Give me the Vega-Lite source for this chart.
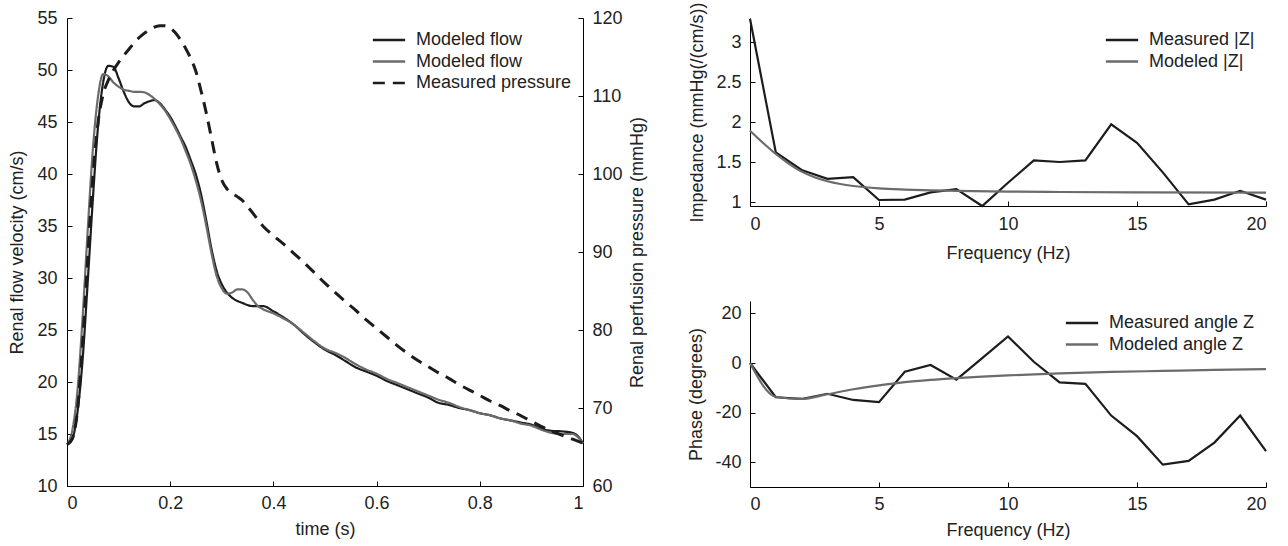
{
  "$schema": "https://vega.github.io/schema/vega-lite/v6.json",
  "padding": {"left": 8, "top": 1, "right": 5, "bottom": 5},
  "background": "white",
  "config": {
    "font": "Liberation Sans",
    "view": {"stroke": null},
    "axis": {
      "grid": false,
      "domainColor": "#000000",
      "domainWidth": 1,
      "tickColor": "#000000",
      "tickSize": -5,
      "labelFontSize": 18,
      "titleFontSize": 18,
      "titleFontWeight": "normal",
      "labelColor": "#222222",
      "titleColor": "#222222",
      "labelFont": "Liberation Sans",
      "titleFont": "Liberation Sans",
      "format": "~r"
    },
    "legend": {
      "title": null,
      "orient": "top-right",
      "offset": 11,
      "padding": 0,
      "labelFontSize": 18,
      "labelFont": "Liberation Sans",
      "labelColor": "#222222",
      "labelLimit": 300,
      "symbolType": "M-1.7,0H1.7",
      "symbolSize": 361,
      "symbolStrokeWidth": 2.5,
      "labelOffset": 16,
      "rowPadding": 1.5
    }
  },
  "datasets": {
    "flow": [
      {"series": "A", "t": 0, "value": 14.0},
      {"series": "A", "t": 0.01, "value": 14.5},
      {"series": "A", "t": 0.02, "value": 17.0},
      {"series": "A", "t": 0.03, "value": 22.0},
      {"series": "A", "t": 0.04, "value": 29.5},
      {"series": "A", "t": 0.05, "value": 37.5},
      {"series": "A", "t": 0.06, "value": 44.5},
      {"series": "A", "t": 0.07, "value": 48.8},
      {"series": "A", "t": 0.08, "value": 50.4},
      {"series": "A", "t": 0.09, "value": 50.3},
      {"series": "A", "t": 0.10, "value": 49.2},
      {"series": "A", "t": 0.11, "value": 47.9},
      {"series": "A", "t": 0.12, "value": 46.9},
      {"series": "A", "t": 0.13, "value": 46.5},
      {"series": "A", "t": 0.14, "value": 46.5},
      {"series": "A", "t": 0.15, "value": 46.8},
      {"series": "A", "t": 0.16, "value": 47.0},
      {"series": "A", "t": 0.17, "value": 47.1},
      {"series": "A", "t": 0.18, "value": 46.8},
      {"series": "A", "t": 0.19, "value": 46.2},
      {"series": "A", "t": 0.20, "value": 45.5},
      {"series": "A", "t": 0.21, "value": 44.6},
      {"series": "A", "t": 0.22, "value": 43.6},
      {"series": "A", "t": 0.23, "value": 42.6},
      {"series": "A", "t": 0.24, "value": 41.3},
      {"series": "A", "t": 0.25, "value": 39.9},
      {"series": "A", "t": 0.26, "value": 38.0},
      {"series": "A", "t": 0.27, "value": 35.5},
      {"series": "A", "t": 0.28, "value": 32.8},
      {"series": "A", "t": 0.29, "value": 30.7},
      {"series": "A", "t": 0.30, "value": 29.4},
      {"series": "A", "t": 0.31, "value": 28.6},
      {"series": "A", "t": 0.32, "value": 28.1},
      {"series": "A", "t": 0.34, "value": 27.6},
      {"series": "A", "t": 0.36, "value": 27.3},
      {"series": "A", "t": 0.38, "value": 27.3},
      {"series": "A", "t": 0.40, "value": 26.8},
      {"series": "A", "t": 0.42, "value": 26.2},
      {"series": "A", "t": 0.44, "value": 25.5},
      {"series": "A", "t": 0.46, "value": 24.6},
      {"series": "A", "t": 0.48, "value": 23.8},
      {"series": "A", "t": 0.50, "value": 23.1},
      {"series": "A", "t": 0.52, "value": 22.6},
      {"series": "A", "t": 0.54, "value": 22.0},
      {"series": "A", "t": 0.56, "value": 21.4},
      {"series": "A", "t": 0.58, "value": 21.0},
      {"series": "A", "t": 0.60, "value": 20.6},
      {"series": "A", "t": 0.62, "value": 20.1},
      {"series": "A", "t": 0.64, "value": 19.7},
      {"series": "A", "t": 0.66, "value": 19.3},
      {"series": "A", "t": 0.68, "value": 18.9},
      {"series": "A", "t": 0.70, "value": 18.5},
      {"series": "A", "t": 0.72, "value": 18.0},
      {"series": "A", "t": 0.74, "value": 17.8},
      {"series": "A", "t": 0.76, "value": 17.5},
      {"series": "A", "t": 0.78, "value": 17.3},
      {"series": "A", "t": 0.80, "value": 17.0},
      {"series": "A", "t": 0.82, "value": 16.8},
      {"series": "A", "t": 0.84, "value": 16.5},
      {"series": "A", "t": 0.86, "value": 16.3},
      {"series": "A", "t": 0.88, "value": 16.1},
      {"series": "A", "t": 0.90, "value": 15.9},
      {"series": "A", "t": 0.92, "value": 15.5},
      {"series": "A", "t": 0.94, "value": 15.3},
      {"series": "A", "t": 0.96, "value": 15.25},
      {"series": "A", "t": 0.98, "value": 15.1},
      {"series": "A", "t": 0.99, "value": 14.8},
      {"series": "A", "t": 1.00, "value": 14.1},
      {"series": "B", "t": 0, "value": 14.0},
      {"series": "B", "t": 0.01, "value": 15.3},
      {"series": "B", "t": 0.02, "value": 19.0},
      {"series": "B", "t": 0.03, "value": 26.0},
      {"series": "B", "t": 0.04, "value": 34.5},
      {"series": "B", "t": 0.05, "value": 42.3},
      {"series": "B", "t": 0.06, "value": 47.4},
      {"series": "B", "t": 0.07, "value": 49.6},
      {"series": "B", "t": 0.08, "value": 49.4},
      {"series": "B", "t": 0.09, "value": 48.8},
      {"series": "B", "t": 0.10, "value": 48.4},
      {"series": "B", "t": 0.11, "value": 48.1},
      {"series": "B", "t": 0.12, "value": 48.0},
      {"series": "B", "t": 0.13, "value": 47.9},
      {"series": "B", "t": 0.14, "value": 47.9},
      {"series": "B", "t": 0.15, "value": 47.85},
      {"series": "B", "t": 0.16, "value": 47.6},
      {"series": "B", "t": 0.17, "value": 47.2},
      {"series": "B", "t": 0.18, "value": 46.7},
      {"series": "B", "t": 0.19, "value": 46.1},
      {"series": "B", "t": 0.20, "value": 45.3},
      {"series": "B", "t": 0.21, "value": 44.4},
      {"series": "B", "t": 0.22, "value": 43.4},
      {"series": "B", "t": 0.23, "value": 42.2},
      {"series": "B", "t": 0.24, "value": 40.9},
      {"series": "B", "t": 0.25, "value": 39.3},
      {"series": "B", "t": 0.26, "value": 37.4},
      {"series": "B", "t": 0.27, "value": 35.0},
      {"series": "B", "t": 0.28, "value": 32.4},
      {"series": "B", "t": 0.29, "value": 30.2},
      {"series": "B", "t": 0.30, "value": 29.0},
      {"series": "B", "t": 0.31, "value": 28.5},
      {"series": "B", "t": 0.32, "value": 28.6},
      {"series": "B", "t": 0.33, "value": 28.9},
      {"series": "B", "t": 0.34, "value": 28.9},
      {"series": "B", "t": 0.35, "value": 28.6},
      {"series": "B", "t": 0.36, "value": 27.9},
      {"series": "B", "t": 0.37, "value": 27.3},
      {"series": "B", "t": 0.38, "value": 27.0},
      {"series": "B", "t": 0.40, "value": 26.6},
      {"series": "B", "t": 0.42, "value": 26.1},
      {"series": "B", "t": 0.44, "value": 25.5},
      {"series": "B", "t": 0.46, "value": 24.7},
      {"series": "B", "t": 0.48, "value": 23.9},
      {"series": "B", "t": 0.50, "value": 23.2},
      {"series": "B", "t": 0.52, "value": 22.8},
      {"series": "B", "t": 0.54, "value": 22.3},
      {"series": "B", "t": 0.56, "value": 21.7},
      {"series": "B", "t": 0.58, "value": 21.2},
      {"series": "B", "t": 0.60, "value": 20.8},
      {"series": "B", "t": 0.62, "value": 20.3},
      {"series": "B", "t": 0.64, "value": 19.9},
      {"series": "B", "t": 0.66, "value": 19.5},
      {"series": "B", "t": 0.68, "value": 19.1},
      {"series": "B", "t": 0.70, "value": 18.7},
      {"series": "B", "t": 0.72, "value": 18.3},
      {"series": "B", "t": 0.74, "value": 18.0},
      {"series": "B", "t": 0.76, "value": 17.6},
      {"series": "B", "t": 0.78, "value": 17.3},
      {"series": "B", "t": 0.80, "value": 17.0},
      {"series": "B", "t": 0.82, "value": 16.8},
      {"series": "B", "t": 0.84, "value": 16.5},
      {"series": "B", "t": 0.86, "value": 16.3},
      {"series": "B", "t": 0.88, "value": 16.0},
      {"series": "B", "t": 0.90, "value": 15.8},
      {"series": "B", "t": 0.92, "value": 15.4},
      {"series": "B", "t": 0.94, "value": 15.1},
      {"series": "B", "t": 0.96, "value": 15.0},
      {"series": "B", "t": 0.98, "value": 15.0},
      {"series": "B", "t": 0.99, "value": 14.7},
      {"series": "B", "t": 1.00, "value": 14.1}
    ],
    "pressure": [
      {"series": "C", "t": 0, "value": 65.3},
      {"series": "C", "t": 0.01, "value": 66.0},
      {"series": "C", "t": 0.02, "value": 69.5},
      {"series": "C", "t": 0.03, "value": 78.0},
      {"series": "C", "t": 0.04, "value": 89.0},
      {"series": "C", "t": 0.05, "value": 99.5},
      {"series": "C", "t": 0.06, "value": 106.5},
      {"series": "C", "t": 0.07, "value": 110.2},
      {"series": "C", "t": 0.08, "value": 112.0},
      {"series": "C", "t": 0.09, "value": 113.3},
      {"series": "C", "t": 0.10, "value": 114.3},
      {"series": "C", "t": 0.12, "value": 116.0},
      {"series": "C", "t": 0.14, "value": 117.5},
      {"series": "C", "t": 0.16, "value": 118.5},
      {"series": "C", "t": 0.18, "value": 119.0},
      {"series": "C", "t": 0.19, "value": 119.0},
      {"series": "C", "t": 0.20, "value": 118.7},
      {"series": "C", "t": 0.21, "value": 118.1},
      {"series": "C", "t": 0.22, "value": 117.2},
      {"series": "C", "t": 0.23, "value": 116.1},
      {"series": "C", "t": 0.24, "value": 114.8},
      {"series": "C", "t": 0.25, "value": 113.1},
      {"series": "C", "t": 0.26, "value": 110.6},
      {"series": "C", "t": 0.27, "value": 107.8},
      {"series": "C", "t": 0.28, "value": 104.6},
      {"series": "C", "t": 0.29, "value": 101.4},
      {"series": "C", "t": 0.30, "value": 99.2},
      {"series": "C", "t": 0.31, "value": 98.1},
      {"series": "C", "t": 0.32, "value": 97.5},
      {"series": "C", "t": 0.33, "value": 97.1},
      {"series": "C", "t": 0.34, "value": 96.6},
      {"series": "C", "t": 0.35, "value": 95.8},
      {"series": "C", "t": 0.36, "value": 95.0},
      {"series": "C", "t": 0.38, "value": 93.3},
      {"series": "C", "t": 0.40, "value": 92.1},
      {"series": "C", "t": 0.42, "value": 91.0},
      {"series": "C", "t": 0.44, "value": 89.8},
      {"series": "C", "t": 0.46, "value": 88.6},
      {"series": "C", "t": 0.48, "value": 87.3},
      {"series": "C", "t": 0.50, "value": 86.0},
      {"series": "C", "t": 0.52, "value": 84.8},
      {"series": "C", "t": 0.54, "value": 83.6},
      {"series": "C", "t": 0.56, "value": 82.5},
      {"series": "C", "t": 0.58, "value": 81.3},
      {"series": "C", "t": 0.60, "value": 80.2},
      {"series": "C", "t": 0.62, "value": 79.1},
      {"series": "C", "t": 0.64, "value": 78.0},
      {"series": "C", "t": 0.66, "value": 77.0},
      {"series": "C", "t": 0.68, "value": 76.1},
      {"series": "C", "t": 0.70, "value": 75.3},
      {"series": "C", "t": 0.72, "value": 74.5},
      {"series": "C", "t": 0.74, "value": 73.8},
      {"series": "C", "t": 0.76, "value": 73.0},
      {"series": "C", "t": 0.78, "value": 72.3},
      {"series": "C", "t": 0.80, "value": 71.6},
      {"series": "C", "t": 0.82, "value": 70.9},
      {"series": "C", "t": 0.84, "value": 70.3},
      {"series": "C", "t": 0.86, "value": 69.6},
      {"series": "C", "t": 0.88, "value": 69.0},
      {"series": "C", "t": 0.90, "value": 68.3},
      {"series": "C", "t": 0.92, "value": 67.6},
      {"series": "C", "t": 0.94, "value": 67.0},
      {"series": "C", "t": 0.96, "value": 66.5},
      {"series": "C", "t": 0.98, "value": 66.0},
      {"series": "C", "t": 1.00, "value": 65.5}
    ],
    "impMeasured": [
      {"series": "Measured |Z|", "f": 0, "z": 3.29},
      {"series": "Measured |Z|", "f": 1, "z": 1.62},
      {"series": "Measured |Z|", "f": 2, "z": 1.40},
      {"series": "Measured |Z|", "f": 3, "z": 1.29},
      {"series": "Measured |Z|", "f": 4, "z": 1.31},
      {"series": "Measured |Z|", "f": 5, "z": 1.025},
      {"series": "Measured |Z|", "f": 6, "z": 1.03},
      {"series": "Measured |Z|", "f": 7, "z": 1.12},
      {"series": "Measured |Z|", "f": 8, "z": 1.16},
      {"series": "Measured |Z|", "f": 9, "z": 0.95},
      {"series": "Measured |Z|", "f": 10, "z": 1.24},
      {"series": "Measured |Z|", "f": 11, "z": 1.52},
      {"series": "Measured |Z|", "f": 12, "z": 1.50},
      {"series": "Measured |Z|", "f": 13, "z": 1.52},
      {"series": "Measured |Z|", "f": 14, "z": 1.97},
      {"series": "Measured |Z|", "f": 15, "z": 1.74},
      {"series": "Measured |Z|", "f": 16, "z": 1.37},
      {"series": "Measured |Z|", "f": 17, "z": 0.97},
      {"series": "Measured |Z|", "f": 18, "z": 1.03},
      {"series": "Measured |Z|", "f": 19, "z": 1.14},
      {"series": "Measured |Z|", "f": 20, "z": 1.03}
    ],
    "impModeled": [
      {"series": "Modeled |Z|", "f": 0, "z": 1.89},
      {"series": "Modeled |Z|", "f": 0.5, "z": 1.74},
      {"series": "Modeled |Z|", "f": 1, "z": 1.60},
      {"series": "Modeled |Z|", "f": 1.5, "z": 1.48},
      {"series": "Modeled |Z|", "f": 2, "z": 1.38},
      {"series": "Modeled |Z|", "f": 2.5, "z": 1.31},
      {"series": "Modeled |Z|", "f": 3, "z": 1.26},
      {"series": "Modeled |Z|", "f": 3.5, "z": 1.225},
      {"series": "Modeled |Z|", "f": 4, "z": 1.20},
      {"series": "Modeled |Z|", "f": 5, "z": 1.17},
      {"series": "Modeled |Z|", "f": 6, "z": 1.155},
      {"series": "Modeled |Z|", "f": 7, "z": 1.145},
      {"series": "Modeled |Z|", "f": 8, "z": 1.14},
      {"series": "Modeled |Z|", "f": 10, "z": 1.13},
      {"series": "Modeled |Z|", "f": 12, "z": 1.125},
      {"series": "Modeled |Z|", "f": 15, "z": 1.12},
      {"series": "Modeled |Z|", "f": 20, "z": 1.117}
    ],
    "phaseMeasured": [
      {"series": "Measured angle Z", "f": 0, "ph": 0},
      {"series": "Measured angle Z", "f": 1, "ph": -13.8},
      {"series": "Measured angle Z", "f": 2, "ph": -14.5},
      {"series": "Measured angle Z", "f": 3, "ph": -12.4},
      {"series": "Measured angle Z", "f": 4, "ph": -14.9},
      {"series": "Measured angle Z", "f": 5, "ph": -15.8},
      {"series": "Measured angle Z", "f": 6, "ph": -3.5},
      {"series": "Measured angle Z", "f": 7, "ph": -0.8},
      {"series": "Measured angle Z", "f": 8, "ph": -6.7},
      {"series": "Measured angle Z", "f": 9, "ph": 2.0},
      {"series": "Measured angle Z", "f": 10, "ph": 10.7},
      {"series": "Measured angle Z", "f": 11, "ph": 0.5},
      {"series": "Measured angle Z", "f": 12, "ph": -7.8},
      {"series": "Measured angle Z", "f": 13, "ph": -8.4},
      {"series": "Measured angle Z", "f": 14, "ph": -21.2},
      {"series": "Measured angle Z", "f": 15, "ph": -29.5},
      {"series": "Measured angle Z", "f": 16, "ph": -41.0},
      {"series": "Measured angle Z", "f": 17, "ph": -39.5},
      {"series": "Measured angle Z", "f": 18, "ph": -32.1},
      {"series": "Measured angle Z", "f": 19, "ph": -21.2},
      {"series": "Measured angle Z", "f": 20, "ph": -35.5}
    ],
    "phaseModeled": [
      {"series": "Modeled angle Z", "f": 0, "ph": 0},
      {"series": "Modeled angle Z", "f": 1, "ph": -13.6},
      {"series": "Modeled angle Z", "f": 2, "ph": -14.5},
      {"series": "Modeled angle Z", "f": 3, "ph": -12.6},
      {"series": "Modeled angle Z", "f": 4, "ph": -10.6},
      {"series": "Modeled angle Z", "f": 5, "ph": -9.0},
      {"series": "Modeled angle Z", "f": 6, "ph": -7.7},
      {"series": "Modeled angle Z", "f": 7, "ph": -6.8},
      {"series": "Modeled angle Z", "f": 8, "ph": -6.1},
      {"series": "Modeled angle Z", "f": 9, "ph": -5.5},
      {"series": "Modeled angle Z", "f": 10, "ph": -5.0},
      {"series": "Modeled angle Z", "f": 12, "ph": -4.2},
      {"series": "Modeled angle Z", "f": 14, "ph": -3.6},
      {"series": "Modeled angle Z", "f": 16, "ph": -3.2},
      {"series": "Modeled angle Z", "f": 18, "ph": -2.8},
      {"series": "Modeled angle Z", "f": 20, "ph": -2.5}
    ]
  },
  "hconcat": [
    {
      "width": 516,
      "height": 468,
      "layer": [
        {
          "data": {"name": "flow"},
          "mark": {"type": "line", "interpolate": "monotone", "strokeWidth": 2.2},
          "encoding": {
            "x": {"field": "t", "type": "quantitative", "scale": {"domain": [0, 1], "nice": false},
                  "axis": {"title": "time (s)", "values": [0, 0.2, 0.4, 0.6, 0.8, 1], "labelPadding": 13, "titlePadding": 8}},
            "y": {"field": "value", "type": "quantitative", "scale": {"domain": [10, 55], "nice": false},
                  "axis": {"title": "Renal flow velocity (cm/s)", "values": [10, 15, 20, 25, 30, 35, 40, 45, 50, 55], "labelPadding": 15, "titlePadding": 10}},
            "color": {"field": "series", "type": "nominal",
                      "scale": {"domain": ["A", "B", "C"], "range": ["#1c1c1c", "#6b6b6b", "#1c1c1c"]},
                      "legend": {"orient": "top-right", "labelExpr": "datum.label == 'C' ? 'Measured pressure' : 'Modeled flow'"}},
            "strokeDash": {"field": "series", "type": "nominal",
                      "scale": {"domain": ["A", "B", "C"], "range": [[1, 0], [1, 0], [12, 8]]},
                      "legend": {"orient": "top-right", "labelExpr": "datum.label == 'C' ? 'Measured pressure' : 'Modeled flow'"}},
            "order": {"field": "t", "type": "quantitative"}
          }
        },
        {
          "data": {"name": "pressure"},
          "mark": {"type": "line", "interpolate": "monotone", "strokeWidth": 3},
          "encoding": {
            "x": {"field": "t", "type": "quantitative", "scale": {"domain": [0, 1], "nice": false}},
            "y": {"field": "value", "type": "quantitative", "scale": {"domain": [60, 120], "nice": false},
                  "axis": {"orient": "right", "title": "Renal perfusion pressure (mmHg)", "titleAngle": 270, "titleBaseline": "top", "values": [60, 70, 80, 90, 100, 110, 120], "labelPadding": 14, "titlePadding": 6}},
            "color": {"field": "series", "type": "nominal"},
            "strokeDash": {"field": "series", "type": "nominal"},
            "order": {"field": "t", "type": "quantitative"}
          }
        }
      ],
      "resolve": {"scale": {"y": "independent"}}
    },
    {
      "vconcat": [
        {
          "width": 516,
          "height": 188,
          "layer": [
            {
              "data": {"name": "impMeasured"},
              "mark": {"type": "line", "strokeWidth": 2.2},
              "encoding": {
                "x": {"field": "f", "type": "quantitative", "scale": {"domain": [0, 20], "nice": false},
                      "axis": {"title": "Frequency (Hz)", "values": [0, 5, 10, 15, 20], "labelPadding": 14, "titlePadding": 11}},
                "y": {"field": "z", "type": "quantitative", "scale": {"domain": [0.95, 3.3], "nice": false},
                      "axis": {"title": "Impedance (mmHg(/(cm/s))", "values": [1, 1.5, 2, 2.5, 3], "labelPadding": 14, "titlePadding": 9}},
                "color": {"field": "series", "type": "nominal",
                          "scale": {"domain": ["Measured |Z|", "Modeled |Z|"], "range": ["#1c1c1c", "#6b6b6b"]},
                          "legend": {"orient": "top-right"}},
                "order": {"field": "f", "type": "quantitative"}
              }
            },
            {
              "data": {"name": "impModeled"},
              "mark": {"type": "line", "interpolate": "monotone", "strokeWidth": 2.2},
              "encoding": {
                "x": {"field": "f", "type": "quantitative"},
                "y": {"field": "z", "type": "quantitative"},
                "color": {"field": "series", "type": "nominal"},
                "order": {"field": "f", "type": "quantitative"}
              }
            }
          ]
        },
        {
          "width": 516,
          "height": 186,
          "layer": [
            {
              "data": {"name": "phaseMeasured"},
              "mark": {"type": "line", "strokeWidth": 2.2},
              "encoding": {
                "x": {"field": "f", "type": "quantitative", "scale": {"domain": [0, 20], "nice": false},
                      "axis": {"title": "Frequency (Hz)", "values": [0, 5, 10, 15, 20], "labelPadding": 13, "titlePadding": 8}},
                "y": {"field": "ph", "type": "quantitative", "scale": {"domain": [-50, 25], "nice": false},
                      "axis": {"title": "Phase (degrees)", "values": [-40, -20, 0, 20], "labelPadding": 14, "titlePadding": 9,
                               "labelExpr": "datum.value < 0 ? '-' + abs(datum.value) : '' + datum.value"}},
                "color": {"field": "series", "type": "nominal",
                          "scale": {"domain": ["Measured angle Z", "Modeled angle Z"], "range": ["#1c1c1c", "#6b6b6b"]},
                          "legend": {"orient": "top-right"}},
                "order": {"field": "f", "type": "quantitative"}
              }
            },
            {
              "data": {"name": "phaseModeled"},
              "mark": {"type": "line", "interpolate": "monotone", "strokeWidth": 2.2},
              "encoding": {
                "x": {"field": "f", "type": "quantitative"},
                "y": {"field": "ph", "type": "quantitative"},
                "color": {"field": "series", "type": "nominal"},
                "order": {"field": "f", "type": "quantitative"}
              }
            }
          ]
        }
      ],
      "spacing": 95,
      "bounds": "flush",
      "resolve": {"scale": {"color": "independent"}, "legend": {"color": "independent"}}
    }
  ],
  "spacing": 167,
  "bounds": "flush",
  "resolve": {"scale": {"color": "independent", "strokeDash": "independent"}, "legend": {"color": "independent", "strokeDash": "independent"}}
}
